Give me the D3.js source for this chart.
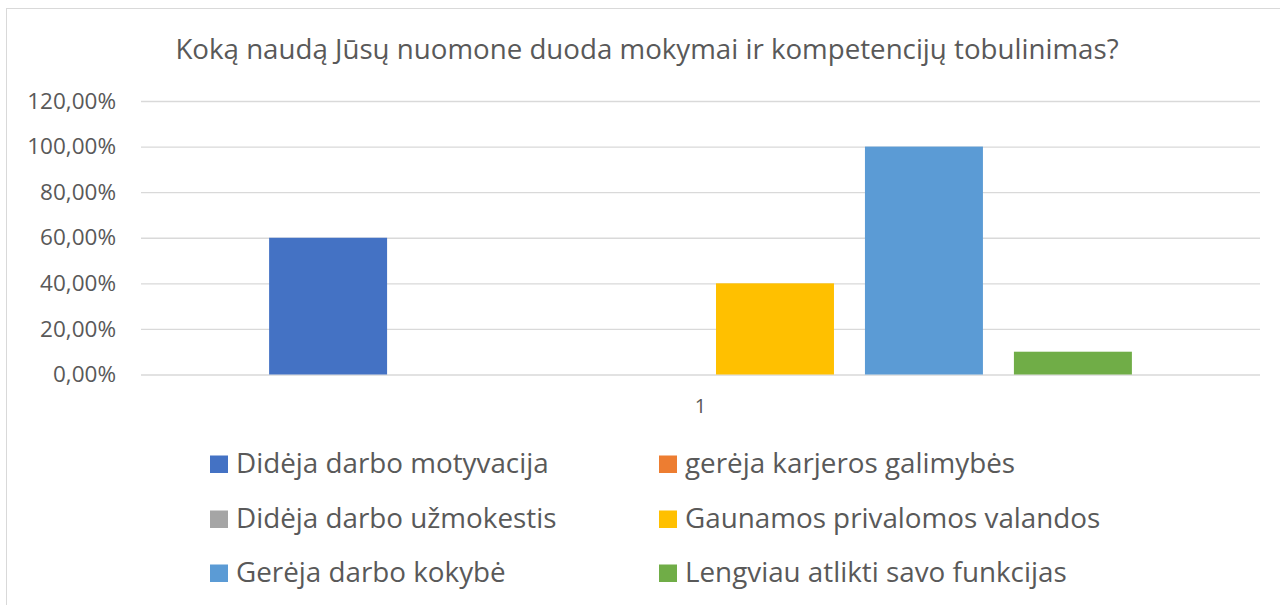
<!DOCTYPE html>
<html><head><meta charset="utf-8">
<script src="https://cdn.jsdelivr.net/npm/d3@7"></script>
<style>body{margin:0;background:#fff;} text{font-family:"Open Sans",sans-serif;fill:#595959;}</style>
</head><body>
<svg id="c" width="1280" height="605"></svg>
<script>
const title = "Koką naudą Jūsų nuomone duoda mokymai ir kompetencijų tobulinimas?";
const categories = ["1"];
const seriesNames = ["Didėja darbo motyvacija","gerėja karjeros galimybės","Didėja darbo užmokestis","Gaunamos privalomos valandos","Gerėja darbo kokybė","Lengviau atlikti savo funkcijas"];
const seriesValues = [0.60, 0.0, 0.0, 0.40, 1.00, 0.10];
const seriesColors = ["#4472C4","#ED7D31","#A5A5A5","#FFC000","#5B9BD5","#70AD47"];
const yTicks = [0,0.2,0.4,0.6,0.8,1.0,1.2];

const svg = d3.select("#c");
svg.append("rect").attr("x",6.5).attr("y",8.5).attr("width",1290).attr("height",620)
  .attr("fill","#fff").attr("stroke","#d9d9d9").attr("stroke-width",1);

const x0 = d3.scaleBand().domain(categories).range([141,1260]).paddingOuter(0.126).paddingInner(0);
const x1 = d3.scaleBand().domain(seriesNames).range([0,x0.bandwidth()]).paddingInner(0.208).paddingOuter(0.104);
const y = d3.scaleLinear().domain([0,1.2]).range([374.5,101]);

const fmt = v => d3.format(".2f")(v*100).replace(".",",")+"%";
const yAxis = d3.axisLeft(y).tickValues(yTicks).tickFormat(fmt).tickSize(-(1260-141)).tickPadding(25);
const ga = svg.append("g").attr("transform","translate(141,0)").call(yAxis);
ga.select(".domain").remove();
ga.selectAll(".tick line").attr("stroke","#d9d9d9").attr("stroke-width",1.4);
ga.selectAll(".tick text").attr("font-size",22.5).attr("fill","#595959").attr("font-family","Open Sans");

const g = svg.append("g");
categories.forEach(c=>{
  g.selectAll("rect.bar").data(seriesNames.map((s,i)=>({s,v:seriesValues[i],c:seriesColors[i]})))
   .join("rect").attr("class","bar")
   .attr("x",d=>x0(c)+x1(d.s)).attr("width",x1.bandwidth())
   .attr("y",d=>y(d.v)).attr("height",d=>y(0)-y(d.v)).attr("fill",d=>d.c);
});
const xAxis = d3.axisBottom(x0).tickSize(0).tickPadding(24);
const gx = svg.append("g").attr("transform","translate(0,374.5)").call(xAxis);
gx.select(".domain").remove();
gx.selectAll(".tick text").attr("font-size",20).attr("fill","#595959").attr("font-family","Open Sans");

svg.append("text").attr("x",647).attr("y",59).attr("text-anchor","middle").attr("font-size",27.7).text(title);

const legX = [210,659], legY = [473,528,582];
const lg = svg.append("g");
seriesNames.forEach((s,i)=>{
  const cx = legX[i%2], cy = legY[Math.floor(i/2)];
  lg.append("rect").attr("x",cx).attr("y",cy-17.5).attr("width",18).attr("height",17.5).attr("fill",seriesColors[i]);
  lg.append("text").attr("x",cx+26).attr("y",cy).attr("font-size",27.8).text(s);
});
</script>
</body></html>
